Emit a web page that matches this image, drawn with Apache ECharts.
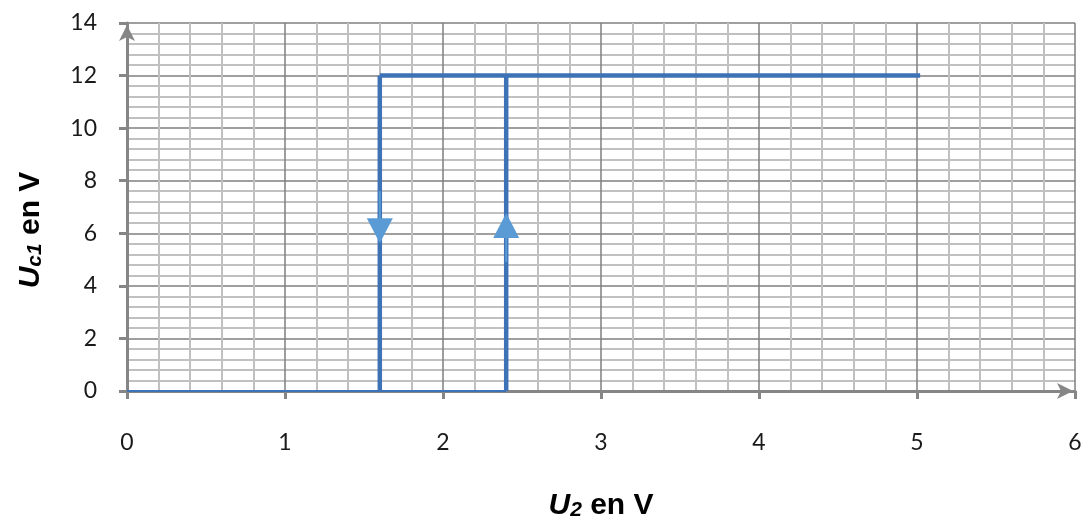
<!DOCTYPE html>
<html>
<head>
<meta charset="utf-8">
<script src="https://cdn.jsdelivr.net/npm/echarts@6/dist/echarts.min.js"></script>
<style>
html,body{margin:0;padding:0;background:#fff;overflow:hidden;}
#chart{width:1089px;height:521px;}
</style>
</head>
<body>
<div id="chart"></div>
<script>
// Hysteresis characteristic Uc1 = f(U2)
var lowBranch = [[0, 0], [2.4, 0]];
var risingEdge = [[2.4, 0], [2.4, 12]];
var fallingEdge = [[1.6, 12], [1.6, 0]];
var highBranch = [[1.6, 12], [5.02, 12]];
var downArrow = [[1.6, 6.1]];
var upArrow = [[2.4, 6.3]];
var downShaft = [[1.6, 7.6], [1.6, 6.4]];
var upShaft = [[2.4, 6.0], [2.4, 4.9]];
var xTicks = [0, 1, 2, 3, 4, 5, 6];
var yTicks = [0, 2, 4, 6, 8, 10, 12, 14];

var lineColor = '#3D73B6';
var arrowColor = '#5B9BD5';

function lineSeries(data, width, color) {
  return {
    type: 'line', data: data, symbol: 'none', silent: true,
    lineStyle: { color: color || lineColor, width: width, opacity: 1 }, z: 3, animation: false
  };
}

var titleRich = {
  b: { fontFamily: 'Liberation Sans', fontWeight: 'bold', fontStyle: 'italic', fontSize: 30, color: '#000' },
  bs: { fontFamily: 'Liberation Sans', fontWeight: 'bold', fontStyle: 'italic', fontSize: 21, color: '#000', padding: [9, 0, 0, 0] },
  n: { fontFamily: 'Liberation Sans', fontWeight: 'bold', fontSize: 30, color: '#000' }
};

var chart = echarts.init(document.getElementById('chart'), null, { width: 1089, height: 521 });
chart.setOption({
  animation: false,
  grid: { left: 127, width: 948, top: 23, height: 368, containLabel: false, outerBoundsMode: 'none' },
  xAxis: {
    type: 'value', min: xTicks[0], max: xTicks[xTicks.length - 1], interval: 1,
    axisLine: { show: true, lineStyle: { color: '#868686', width: 3 }, symbol: ['none', 'arrow'], symbolSize: [12, 16], symbolOffset: [0, -2] },
    axisTick: { show: true, inside: false, length: 8, lineStyle: { color: '#868686', width: 3 } },
    axisLabel: { margin: 40, fontFamily: 'Lato', fontSize: 23, color: '#1a1a1a' },
    splitLine: { show: true, lineStyle: { color: '#7f7f7f', width: 1.5 } },
    minorTick: { show: false, splitNumber: 5 },
    minorSplitLine: { show: true, lineStyle: { color: '#c0c0c0', width: 2 } },
    name: '{b|U}{bs|2}{n| en V}', nameLocation: 'middle', nameGap: 100,
    nameTextStyle: { rich: titleRich }
  },
  yAxis: {
    type: 'value', min: yTicks[0], max: yTicks[yTicks.length - 1], interval: 2,
    axisLine: { show: true, lineStyle: { color: '#868686', width: 3 }, symbol: ['none', 'arrow'], symbolSize: [12, 16], symbolOffset: [0, -2] },
    axisTick: { show: true, inside: false, length: 8, lineStyle: { color: '#868686', width: 3 } },
    axisLabel: { margin: 30, fontFamily: 'Lato', fontSize: 23, color: '#1a1a1a' },
    splitLine: { show: true, lineStyle: { color: '#7f7f7f', width: 1.5 } },
    minorTick: { show: false, splitNumber: 5 },
    minorSplitLine: { show: true, lineStyle: { color: '#c0c0c0', width: 2 } },
    name: '{b|U}{bs|c1}{n| en V}', nameLocation: 'middle', nameGap: 81, nameRotate: 90,
    nameTextStyle: { rich: titleRich, padding: [0, 46, 0, 0] }
  },
  series: [
    lineSeries(lowBranch, 2),
    lineSeries(risingEdge, 4.5),
    lineSeries(fallingEdge, 4.5),
    lineSeries(highBranch, 4.5),
    lineSeries(downShaft, 2, arrowColor),
    lineSeries(upShaft, 2, arrowColor),
    {
      type: 'scatter', data: downArrow, symbol: 'triangle', symbolRotate: 180,
      symbolSize: [26, 25], itemStyle: { color: arrowColor, opacity: 1 }, z: 5, silent: true
    },
    {
      type: 'scatter', data: upArrow, symbol: 'triangle',
      symbolSize: [26, 25], itemStyle: { color: arrowColor, opacity: 1 }, z: 5, silent: true
    }
  ]
});
</script>
</body>
</html>
